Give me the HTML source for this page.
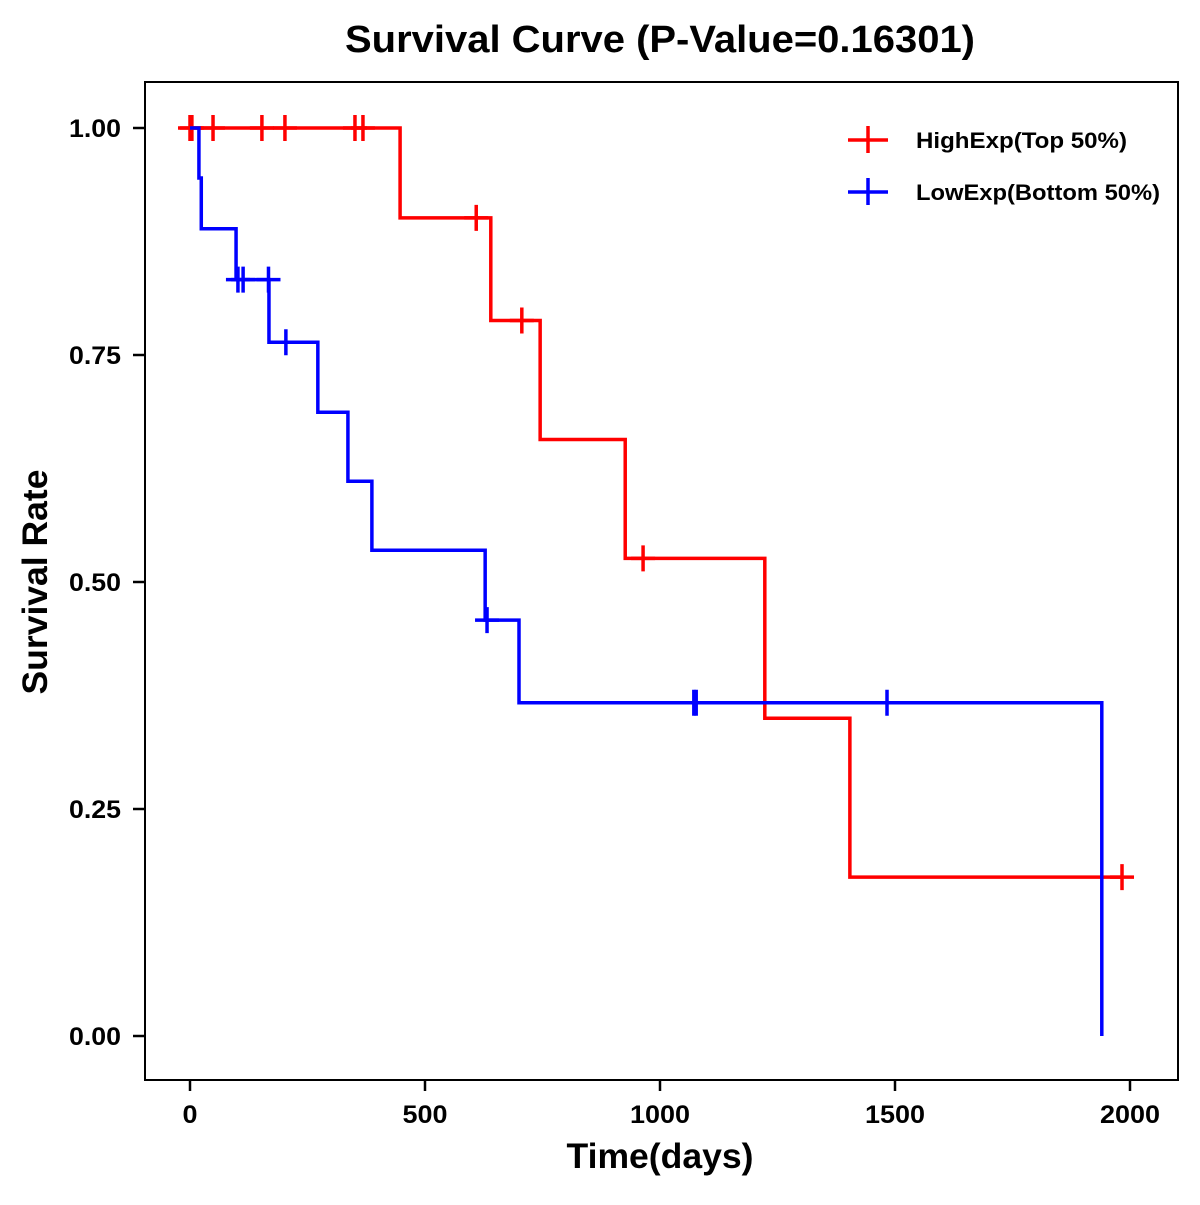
<!DOCTYPE html>
<html><head><meta charset="utf-8"><style>
body{margin:0;background:#fff}
svg text{font-family:"Liberation Sans",Arial,sans-serif;font-weight:bold;fill:#000}
</style></head><body>
<svg id="chart" width="1200" height="1200" xmlns="http://www.w3.org/2000/svg">
<rect width="1200" height="1200" fill="#fff"/>
<text x="660" y="52" font-size="38" text-anchor="middle" textLength="630" lengthAdjust="spacingAndGlyphs">Survival Curve (P-Value=0.16301)</text>
<rect x="145" y="82" width="1033" height="998" fill="none" stroke="#000" stroke-width="2"/>
<g id="axes"></g>
<g id="series"></g>
<text x="660" y="1168" font-size="35" text-anchor="middle" textLength="187" lengthAdjust="spacingAndGlyphs">Time(days)</text>
<text x="47" y="582" font-size="35" text-anchor="middle" textLength="225" lengthAdjust="spacingAndGlyphs" transform="rotate(-90 47 582)">Survival Rate</text>
<g>
<g>
<line x1="848" y1="140" x2="888" y2="140" stroke="#f00" stroke-width="3.5"/><line x1="868" y1="126" x2="868" y2="153" stroke="#f00" stroke-width="3.5"/>
<text x="916" y="148" font-size="22" textLength="211" lengthAdjust="spacingAndGlyphs">HighExp(Top 50%)</text></g>
<g>
<line x1="848" y1="192" x2="888" y2="192" stroke="#00f" stroke-width="3.5"/><line x1="868" y1="178" x2="868" y2="205" stroke="#00f" stroke-width="3.5"/>
<text x="916" y="200" font-size="22" textLength="244" lengthAdjust="spacingAndGlyphs">LowExp(Bottom 50%)</text></g>
</g>
</svg>
<script>
const xTicks=[0,500,1000,1500,2000];
const yTicks=[0,0.25,0.5,0.75,1.0];
const yTickLabels=["0.00","0.25","0.50","0.75","1.00"];
// event times and survival after each step
const highTimes=[0,447,640,745,926,1223,1404,1983];
const highSurv=[1.0,0.901,0.788,0.657,0.526,0.350,0.175,0.175];
const highCensor=[0,4,49,153,202,351,368,609,706,964,1983];
const lowTimes=[0,19,24,98,168,272,336,387,628,700,1940];
const lowSurv=[1.0,0.945,0.889,0.833,0.764,0.687,0.611,0.535,0.458,0.367,0.0];
const lowCensor=[102,113,167,204,632,1072,1077,1483];

const X=d=>190+d*0.47;
const Y=v=>1036-v*908;
const NS="http://www.w3.org/2000/svg";
function mk(tag,attrs,parent){const e=document.createElementNS(NS,tag);for(const k in attrs)e.setAttribute(k,attrs[k]);parent.appendChild(e);return e;}
const ax=document.getElementById('axes');
xTicks.forEach(t=>{
 const l=mk('line',{x1:X(t),x2:X(t),y1:1080,y2:1091,stroke:'#000','stroke-width':2.5},ax);
 
 
 const s=String(t);
 const tx=mk('text',{x:X(t),y:1123,'font-size':25,'text-anchor':'middle',textLength:s.length*15,lengthAdjust:'spacingAndGlyphs'},ax);tx.textContent=s;
 
 
});
yTicks.forEach((t,i)=>{
 const l=mk('line',{x1:133,x2:145,y1:Y(t),y2:Y(t),stroke:'#000','stroke-width':2.5},ax);
 
 
 const tx=mk('text',{x:121,y:Y(t)+9,'font-size':25,'text-anchor':'end',textLength:52,lengthAdjust:'spacingAndGlyphs'},ax);tx.textContent=yTickLabels[i];
 
 
});
function survAt(times,surv,t){let s=surv[0];for(let i=0;i<times.length;i++){if(times[i]<=t)s=surv[i];}return s;}
const sg=document.getElementById('series');
function draw(times,surv,cens,color,name,endT){
 let d='M'+X(times[0])+' '+Y(surv[0]);
 for(let i=1;i<times.length;i++){d+=' H'+X(times[i])+' V'+Y(surv[i]);}
 if(endT>times[times.length-1])d+=' H'+X(endT);
 const p=mk('path',{d:d,fill:'none',stroke:color,'stroke-width':3.5},sg);
 
 
 cens.forEach(c=>{
  const y=Y(survAt(times,surv,c)),x=X(c);
  const g=mk('path',{d:`M${x-12} ${y} H${x+12} M${x} ${y-13} V${y+13}`,stroke:color,'stroke-width':3.5,fill:'none'},sg);
  
  
 });
}
draw(highTimes,highSurv,highCensor,'#f00','high-exp',1983);
draw(lowTimes,lowSurv,lowCensor,'#00f','low-exp',1940);
</script>
</body></html>
